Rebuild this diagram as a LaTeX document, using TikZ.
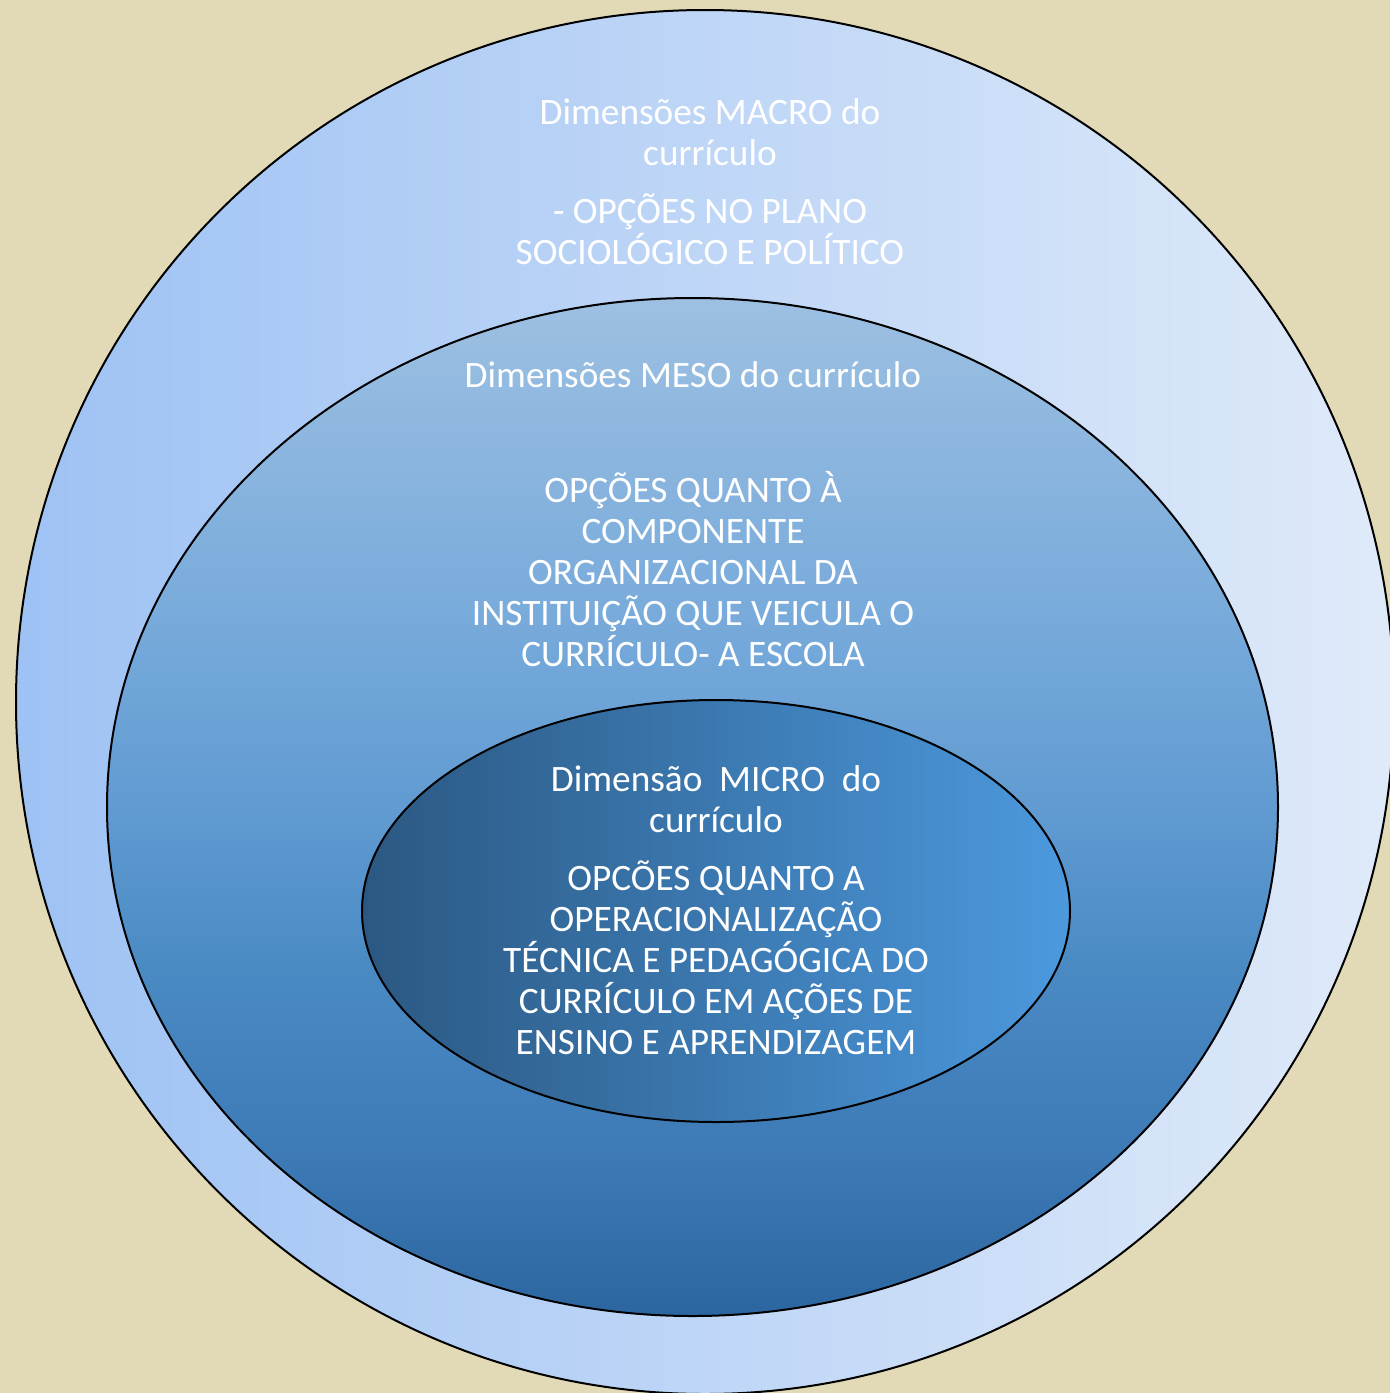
\documentclass[tikz,border=0pt]{standalone}
\usepackage{fontspec}
\setmainfont{Carlito}
\definecolor{paper}{HTML}{E2DAB6}
\definecolor{macroL}{HTML}{9EC2F4}
\definecolor{macroM}{HTML}{BDD5F6}
\definecolor{macroR}{HTML}{DFEAF9}
\definecolor{mesoA}{HTML}{9DC0E2}
\definecolor{mesoB}{HTML}{74A8DA}
\definecolor{mesoC}{HTML}{5E99D0}
\definecolor{mesoD}{HTML}{4B8BC4}
\definecolor{mesoE}{HTML}{3D7AB6}
\definecolor{mesoF}{HTML}{2C66A0}
\definecolor{microL}{HTML}{2B5882}
\definecolor{microM}{HTML}{3F7EB8}
\definecolor{microR}{HTML}{4C99DE}
% top-to-bottom blue ramp of the middle ring (25bp = bottom, 75bp = top)
\pgfdeclareverticalshading{mesoramp}{100bp}{%
  color(0bp)=(mesoF); color(25bp)=(mesoF); color(33bp)=(mesoE);
  color(42.5bp)=(mesoD); color(49bp)=(mesoC); color(57.7bp)=(mesoB);
  color(75bp)=(mesoA); color(100bp)=(mesoA)}
\tikzset{
  ring/.style={draw=black, line width=1pt},
  label/.style={text=white, align=center, inner sep=0pt,
    font=\fontsize{18.65pt}{20.5pt}\selectfont},
}
\begin{document}
\begin{tikzpicture}[x=0.5pt, y=-0.5pt]
  \useasboundingbox (0,0) rectangle (1390,1393);
  \fill[paper] (0,0) rectangle (1390,1393);
  \begin{scope}
    \clip (0,0) rectangle (1390,1393);
    % macro level
    \shade[left color=macroL, middle color=macroM, right color=macroR]
      (705,702) ellipse [x radius=689, y radius=692];
    \draw[ring] (705,702) ellipse [x radius=689, y radius=692];
    % meso level
    \shade[shading=mesoramp]
      (692.5,807) ellipse [x radius=585.5, y radius=509];
    \draw[ring] (692.5,807) ellipse [x radius=585.5, y radius=509];
    % micro level
    \shade[left color=microL, middle color=microM, right color=microR]
      (716,911) ellipse [x radius=354, y radius=211];
    \draw[ring] (716,911) ellipse [x radius=354, y radius=211];
  \end{scope}

  \node[label] (macroT) at (710,132) {Dimensões MACRO do\\currículo};
  \node[label] (macroO) at (710,229) {- OPÇÕES NO PLANO\\SOCIOLÓGICO E POLÍTICO};
  \node[label] (mesoT) at (693,375) {Dimensões MESO do currículo};
  \node[label] (mesoO) at (693,569) {OPÇÕES QUANTO À\\COMPONENTE\\ORGANIZACIONAL DA\\INSTITUIÇÃO QUE VEICULA O\\CURRÍCULO- A ESCOLA};
  \node[label] (microT) at (716,799) {Dimensão\hspace{0.45em}MICRO\hspace{0.45em}do\\currículo};
  \node[label] (microO) at (716,958) {OPCÕES QUANTO A\\OPERACIONALIZAÇÃO\\TÉCNICA E PEDAGÓGICA DO\\CURRÍCULO EM AÇÕES DE\\ENSINO E APRENDIZAGEM};
\end{tikzpicture}
\end{document}
